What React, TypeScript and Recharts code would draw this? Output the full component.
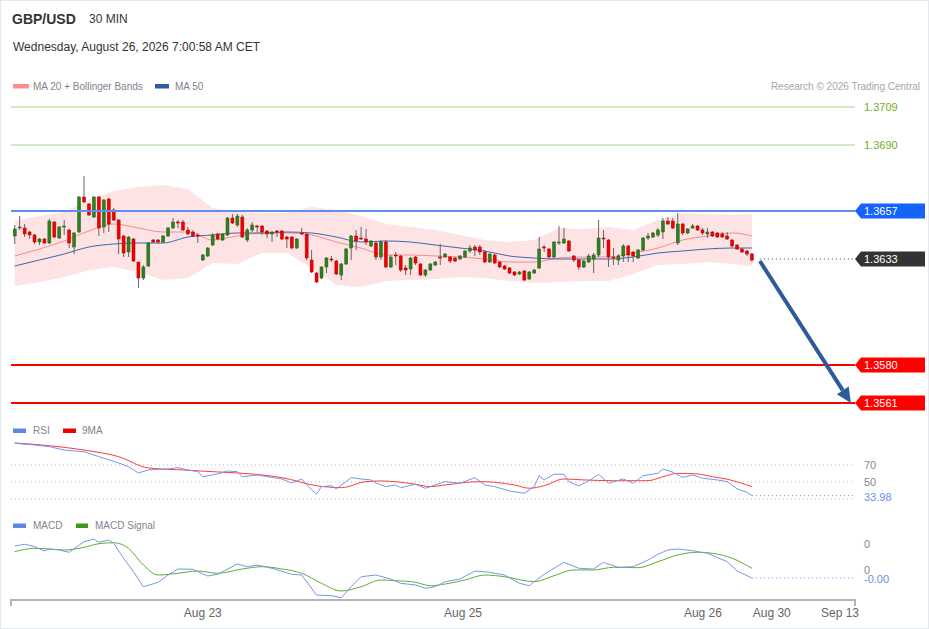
import React from 'react';
import { ComposedChart, Line, Area, Bar, XAxis, YAxis, ReferenceLine } from 'recharts';

const FONT = '"Liberation Sans", Arial, Helvetica, sans-serif';
const W = 929;
const MARGIN_X = { left: 11, right: 74 };
const X_DOMAIN: [number, number] = [-0.75, 169.83];

// 30 min candles, Aug 21 -> Aug 26 07:00
const opens = [
  1.36445, 1.36485, 1.36485, 1.36465, 1.3645, 1.36415, 1.3643, 1.3641, 1.36515, 1.36435,
  1.3649, 1.36475, 1.3639, 1.36465, 1.3664, 1.36605, 1.3654, 1.3664, 1.3649, 1.3663,
  1.36575, 1.36525, 1.36445, 1.36365, 1.3643, 1.36315, 1.36235, 1.36295, 1.36425, 1.36425,
  1.36415, 1.36445, 1.36485, 1.36515, 1.36515, 1.36475, 1.36465, 1.3645, 1.36325, 1.36345,
  1.364, 1.36455, 1.36425, 1.3645, 1.36535, 1.365, 1.3654, 1.36425, 1.36475, 1.36495,
  1.36495, 1.3647, 1.36455, 1.3647, 1.3647, 1.3644, 1.3644, 1.36385, 1.3646, 1.36455,
  1.36325, 1.3626, 1.36235, 1.3629, 1.3633, 1.3632, 1.3625, 1.36305, 1.36385, 1.36445,
  1.36435, 1.3643, 1.36395, 1.3641, 1.3634, 1.36415, 1.3629, 1.3635, 1.36345, 1.36285,
  1.3628, 1.3634, 1.36305, 1.3625, 1.36275, 1.363, 1.3634, 1.3634, 1.3634, 1.36335,
  1.3633, 1.3634, 1.3637, 1.3639, 1.3639, 1.36365, 1.36315, 1.3635, 1.36315, 1.36295,
  1.36285, 1.36265, 1.36255, 1.3627, 1.3623, 1.3626, 1.36285, 1.3639, 1.3638, 1.3634,
  1.3641, 1.3641, 1.3642, 1.36345, 1.36325, 1.3629, 1.36315, 1.3633, 1.3635, 1.36435,
  1.36425, 1.3634, 1.36325, 1.36345, 1.36395, 1.36365, 1.36335, 1.36375, 1.36435, 1.3644,
  1.3645, 1.36465, 1.3652, 1.3652, 1.3641, 1.36505, 1.3646, 1.36485, 1.36495, 1.36475,
  1.36455, 1.36465, 1.3646, 1.36455, 1.36445, 1.36425, 1.364, 1.3638, 1.3637, 1.36355,
];
const highs = [
  1.365, 1.36545, 1.36505, 1.3647, 1.36455, 1.36435, 1.36435, 1.3653, 1.3652, 1.36495,
  1.36525, 1.3648, 1.36465, 1.36645, 1.36745, 1.3661, 1.36645, 1.36645, 1.3663, 1.36635,
  1.36585, 1.3653, 1.3645, 1.36445, 1.36435, 1.36315, 1.363, 1.36415, 1.3643, 1.3643,
  1.3645, 1.3649, 1.36535, 1.36525, 1.36525, 1.3649, 1.36475, 1.3646, 1.36355, 1.3639,
  1.3646, 1.3646, 1.3646, 1.3654, 1.36555, 1.36555, 1.3655, 1.36485, 1.36515, 1.365,
  1.365, 1.36475, 1.3647, 1.36475, 1.36475, 1.36445, 1.36445, 1.36435, 1.36485, 1.3646,
  1.36375, 1.36265, 1.36295, 1.3634, 1.36345, 1.36325, 1.3631, 1.36385, 1.3645, 1.36475,
  1.3649, 1.3648, 1.36425, 1.3642, 1.36425, 1.36425, 1.3635, 1.36365, 1.3635, 1.363,
  1.3634, 1.36345, 1.3631, 1.3628, 1.3631, 1.3632, 1.36405, 1.3636, 1.36345, 1.3634,
  1.3635, 1.36375, 1.364, 1.364, 1.364, 1.36375, 1.3636, 1.36355, 1.3632, 1.363,
  1.3629, 1.3627, 1.3627, 1.36275, 1.3627, 1.3628, 1.3644, 1.364, 1.36385, 1.3642,
  1.36495, 1.36485, 1.36425, 1.3635, 1.3633, 1.36325, 1.36355, 1.3636, 1.36525, 1.36475,
  1.3643, 1.36385, 1.36355, 1.36405, 1.364, 1.3637, 1.3638, 1.3644, 1.3646, 1.36465,
  1.36485, 1.36535, 1.3654, 1.36535, 1.3656, 1.3651, 1.36485, 1.36505, 1.365, 1.36485,
  1.36485, 1.3647, 1.36465, 1.36465, 1.36465, 1.3643, 1.36405, 1.36385, 1.36375, 1.3636,
];
const lows = [
  1.36405, 1.36475, 1.3644, 1.3643, 1.36405, 1.364, 1.36405, 1.36405, 1.36435, 1.3643,
  1.3645, 1.36385, 1.36355, 1.3646, 1.3661, 1.36545, 1.36535, 1.36445, 1.3646, 1.36465,
  1.3652, 1.36355, 1.3634, 1.3634, 1.36315, 1.36185, 1.36225, 1.3629, 1.3641, 1.36405,
  1.3641, 1.3644, 1.3648, 1.36485, 1.3647, 1.3645, 1.3644, 1.3641, 1.3632, 1.3634,
  1.36395, 1.36425, 1.3642, 1.36445, 1.36505, 1.3649, 1.36435, 1.36415, 1.36465, 1.36465,
  1.3645, 1.36435, 1.36415, 1.3644, 1.36425, 1.36385, 1.3638, 1.3638, 1.3645, 1.36325,
  1.3626, 1.3621, 1.3623, 1.3626, 1.36315, 1.3625, 1.36225, 1.363, 1.36325, 1.36375,
  1.36425, 1.364, 1.3639, 1.36325, 1.36325, 1.36285, 1.36285, 1.363, 1.36265, 1.3625,
  1.3625, 1.363, 1.36245, 1.3624, 1.3627, 1.36295, 1.363, 1.36335, 1.3631, 1.36315,
  1.36325, 1.36335, 1.3636, 1.36345, 1.3635, 1.3631, 1.3631, 1.36305, 1.36285, 1.36275,
  1.36255, 1.36245, 1.3625, 1.3622, 1.36225, 1.36255, 1.3628, 1.36365, 1.36335, 1.36335,
  1.364, 1.36405, 1.36365, 1.36315, 1.36275, 1.36285, 1.3631, 1.3626, 1.3634, 1.36385,
  1.3629, 1.363, 1.363, 1.36315, 1.36315, 1.36315, 1.3633, 1.3637, 1.36425, 1.36435,
  1.3644, 1.3643, 1.365, 1.3648, 1.364, 1.3645, 1.36455, 1.3648, 1.3647, 1.3645,
  1.36435, 1.3644, 1.36435, 1.36435, 1.36425, 1.3639, 1.36375, 1.3636, 1.36345, 1.36315,
];
const closes = [
  1.3648, 1.3649, 1.36455, 1.3645, 1.36415, 1.3643, 1.3641, 1.3652, 1.3644, 1.3649,
  1.36495, 1.3641, 1.3646, 1.3664, 1.36615, 1.3655, 1.3664, 1.36485, 1.36625, 1.36505,
  1.36525, 1.3643, 1.3636, 1.3644, 1.3632, 1.36235, 1.3629, 1.3641, 1.36415, 1.36415,
  1.36445, 1.36485, 1.36515, 1.3651, 1.36475, 1.36455, 1.36445, 1.36445, 1.3635, 1.36385,
  1.3645, 1.3643, 1.36455, 1.36535, 1.3651, 1.36545, 1.3644, 1.36475, 1.365, 1.3649,
  1.36465, 1.36455, 1.36465, 1.36465, 1.3643, 1.3643, 1.36385, 1.3643, 1.36455, 1.36335,
  1.36265, 1.36215, 1.3629, 1.36335, 1.36325, 1.36255, 1.36305, 1.3638, 1.36445, 1.3642,
  1.3643, 1.36415, 1.3642, 1.3634, 1.36415, 1.3629, 1.3634, 1.36345, 1.36275, 1.36275,
  1.36335, 1.3631, 1.3625, 1.36275, 1.36305, 1.36315, 1.36335, 1.36355, 1.3632, 1.3632,
  1.36345, 1.3637, 1.36385, 1.36375, 1.36365, 1.36315, 1.36355, 1.3631, 1.3629, 1.3628,
  1.3626, 1.3625, 1.36265, 1.36225, 1.36265, 1.36275, 1.3638, 1.36385, 1.3634, 1.36415,
  1.36415, 1.3643, 1.3637, 1.36325, 1.3629, 1.3632, 1.36345, 1.3635, 1.36435, 1.3643,
  1.3634, 1.36335, 1.36345, 1.36395, 1.3635, 1.36345, 1.36375, 1.36435, 1.36445, 1.3646,
  1.36475, 1.3652, 1.36505, 1.36485, 1.36505, 1.3646, 1.3648, 1.36495, 1.36475, 1.3646,
  1.36465, 1.36445, 1.3644, 1.3644, 1.3643, 1.36395, 1.3638, 1.36365, 1.36355, 1.36325,
];

// MA 20 + Bollinger Bands and MA 50, read every 5 candles
const bandIdx = [0, 5, 10, 15, 20, 25, 30, 35, 40, 45, 50, 55, 60, 65, 70, 75, 80, 85, 90, 95, 100, 105, 110, 115, 120, 125, 130, 135, 140, 145, 149];
const ma20 = [
  1.36345, 1.3638, 1.3642, 1.3647, 1.36505, 1.36485, 1.36465, 1.36465, 1.36425, 1.36445,
  1.3646, 1.3646, 1.3645, 1.36415, 1.36385, 1.3635, 1.3635, 1.36345, 1.3634, 1.3633,
  1.36315, 1.36315, 1.36335, 1.3634, 1.3634, 1.3636, 1.36385, 1.36425, 1.36445, 1.3646, 1.36445,
];
const ma50 = [
  1.36295, 1.36325, 1.36355, 1.3639, 1.36405, 1.3641, 1.3641, 1.3644, 1.3645, 1.3646,
  1.3646, 1.36465, 1.3646, 1.3644, 1.36415, 1.3642, 1.36415, 1.364, 1.36385, 1.3637,
  1.36345, 1.36335, 1.3633, 1.3633, 1.3633, 1.3634, 1.3636, 1.3637, 1.3638, 1.36385, 1.36385,
];
const bbUpper = [
  1.3652, 1.36545, 1.36565, 1.36625, 1.3667, 1.3669, 1.367, 1.3668, 1.36585, 1.36565,
  1.3656, 1.3656, 1.3659, 1.36575, 1.36545, 1.36505, 1.3649, 1.36475, 1.3645, 1.36425,
  1.36415, 1.36425, 1.36485, 1.3648, 1.3649, 1.36475, 1.36525, 1.3656, 1.36555, 1.3655, 1.36555,
];
const bbLower = [
  1.36195, 1.36215, 1.3624, 1.36275, 1.3629, 1.36265, 1.36225, 1.36235, 1.3631, 1.36305,
  1.3636, 1.3636, 1.36285, 1.362, 1.3619, 1.3622, 1.36225, 1.3623, 1.3624, 1.36235,
  1.3622, 1.3621, 1.36215, 1.3622, 1.3622, 1.36255, 1.363, 1.36305, 1.36315, 1.36305, 1.36295,
];

// RSI and its 9 period MA: [candle index, value]
const rsi: [number, number][] = [
  [0, 95.5], [4, 93.5], [7, 91.5], [10, 87.6], [14, 85.6], [17, 79.8], [21, 72.4], [23, 68.0], [25, 60.6], [27, 64.1],
  [31, 65.3], [33, 66.8], [35, 64.1], [37, 62.1], [38, 56.2], [41, 59.4], [43, 62.9], [45, 62.1], [46, 56.2], [49, 58.2],
  [51, 56.2], [54, 53.5], [56, 48.8], [58, 53.5], [60, 40.6], [61, 35.9], [62, 44.5], [64, 45.6], [65, 41.8], [68, 55.1],
  [70, 53.5], [72, 52.4], [73, 48.8], [75, 44.5], [77, 46.5], [78, 43.3], [81, 47.3], [83, 42.6], [85, 46.5], [87, 50.4],
  [90, 48.5], [93, 55.1], [95, 46.5], [97, 44.5], [100, 39.4], [103, 36.7], [105, 44.5], [106, 57.4], [107, 52.4], [109, 59.1],
  [111, 59.1], [112, 50.4], [114, 45.3], [116, 51.2], [118, 59.1], [120, 48.5], [123, 53.5], [125, 48.5], [127, 57.4], [130, 60.2],
  [131, 65.3], [133, 61.4], [135, 55.5], [137, 58.2], [139, 54.4], [142, 52.4], [144, 50.4], [146, 41.8], [148, 37.9], [149, 33.98],
];
const rsiMa: [number, number][] = [
  [0, 95.9], [7, 92.7], [14, 87.6], [21, 79.8], [27, 66.5], [34, 64.1], [41, 61.8], [48, 59.4], [54, 55.1], [61, 45.6],
  [66, 43.3], [71, 50.4], [74, 51.2], [81, 47.3], [84, 44.5], [87, 46.5], [94, 50.4], [97, 49.6], [101, 46.5], [104, 42.6],
  [107, 45.6], [111, 53.5], [115, 52.4], [121, 51.5], [128, 51.5], [131, 56.2], [134, 60.2], [138, 59.4], [141, 56.2], [144, 53.2],
  [149, 44.5],
];

// MACD and signal: [candle index, value]
const macd: [number, number][] = [
  [0, 0.000464], [2, 0.000495], [4, 0.000452], [6, 0.000375], [7, 0.000411], [9, 0.000393], [11, 0.000352], [14, 0.000541], [16, 0.000589], [17, 0.00053],
  [19, 0.000571], [20, 0.000513], [22, 0.000245], [24, 0.000005], [26, -0.000263], [29, -0.000184], [31, -0.000054], [33, 0.000054], [36, 0.000048], [39, -0.000071],
  [41, -0.000041], [45, 0.000143], [47, 0.000095], [49, 0.000125], [52, 0.000066], [56, -0.000041], [58, -0.000054], [61, -0.000411], [64, -0.000423], [66, -0.000459],
  [68, -0.000263], [70, -0.000084], [73, -0.000054], [76, -0.000125], [78, -0.000202], [81, -0.000232], [83, -0.000291], [85, -0.000263], [87, -0.000173], [90, -0.000125],
  [93, 0.000018], [96, -0.000005], [99, -0.000054], [102, -0.000202], [104, -0.000245], [105, -0.000173], [107, -0.000041], [111, 0.000173], [114, 0.000066], [117, 0.000054],
  [119, 0.000173], [122, 0.000084], [125, 0.000095], [128, 0.000214], [130, 0.000316], [132, 0.000393], [134, 0.000411], [137, 0.00038], [140, 0.000334], [144, 0.000184],
  [146, 0.000018], [149, -0.000107],
];
const macdSignal: [number, number][] = [
  [0, 0.000363], [4, 0.000423], [7, 0.000411], [10, 0.000393], [14, 0.000441], [17, 0.000505], [20, 0.000523], [23, 0.000423], [26, 0.000125], [29, -0.000054],
  [33, -0.000023], [37, 0.000018], [41, -0.000023], [46, 0.000054], [50, 0.000095], [54, 0.000054], [58, -0.000023], [62, -0.000202], [66, -0.000339], [70, -0.000263],
  [74, -0.000143], [77, -0.000155], [81, -0.000184], [84, -0.000245], [87, -0.000214], [91, -0.000143], [95, -0.000054], [99, -0.000084], [105, -0.000173], [109, -0.000066],
  [113, 0.000036], [117, 0.000036], [121, 0.000084], [126, 0.000077], [130, 0.000184], [134, 0.000304], [138, 0.000352], [141, 0.000334], [145, 0.000245], [149, 0.000066],
];

// x axis labels (candle slot positions, future slots are compressed)
const axisTicks = [38, 90.6, 139.1, 153, 166.8];
const axisLabels = ['Aug 23', 'Aug 25', 'Aug 26', 'Aug 30', 'Sep 13'];

// key levels
const resistances = [1.3709, 1.369];
const pivot = 1.3657;
const lastPrice = 1.3633;
const supports = [1.358, 1.3561];
const lastRsi = 33.98;

const candleRows = opens.map((open, i) => ({ i, open, high: highs[i], low: lows[i], close: closes[i] }));
const bandRows = bandIdx.map((i, k) => ({ i, ma20: ma20[k], ma50: ma50[k], upper: bbUpper[k], lower: bbLower[k] }));

function mergeByIndex(series: Record<string, [number, number][]>) {
  const rows = new Map<number, any>();
  Object.entries(series).forEach(([key, pts]) =>
    pts.forEach(([i, v]) => {
      const row = rows.get(i) ?? { i };
      row[key] = v;
      rows.set(i, row);
    })
  );
  return [...rows.values()].sort((a, b) => a.i - b.i);
}
const rsiRows = mergeByIndex({ rsi, ma: rsiMa });
const macdRows = mergeByIndex({ macd, signal: macdSignal });

const Candle = (props: any) => {
  const { x, y, width, height, payload } = props;
  const { open, close, high, low } = payload;
  const k = high > low ? height / (high - low) : 0;
  const cx = x + width / 2;
  const top = y + (high - Math.max(open, close)) * k;
  const bh = Math.max(1, Math.abs(open - close) * k);
  const up = close >= open;
  return (
    <g>
      <line x1={cx} x2={cx} y1={y} y2={y + height} stroke="#6e6262" strokeWidth={1} />
      <rect x={x} y={top} width={width} height={bh} fill={up ? '#2f7f1c' : '#f00000'} stroke={up ? '#22601a' : '#b50000'} strokeWidth={0.5} />
    </g>
  );
};

const PriceTag = ({ viewBox, text, fill }: any) => {
  if (!viewBox) return null;
  const x = viewBox.x + viewBox.width;
  const y = viewBox.y;
  return (
    <g>
      <path d={`M${x},${y} L${x + 6},${y - 7.5} H${x + 70} V${y + 7.5} H${x + 6} Z`} fill={fill} />
      <text x={x + 9} y={y + 4} fill="#fff" fontSize={11} fontFamily={FONT}>{text}</text>
    </g>
  );
};

const SideText = ({ viewBox, text, color, dy = 0 }: any) => {
  if (!viewBox) return null;
  return (
    <text x={viewBox.x + viewBox.width + 9} y={viewBox.y + 4 + dy} fill={color} fontSize={11} fontFamily={FONT}>
      {text}
    </text>
  );
};

const TrendArrow = (props: any) => {
  const { x1, y1, x2, y2 } = props;
  const dx = x2 - x1;
  const dy = y2 - y1;
  const len = Math.sqrt(dx * dx + dy * dy);
  const ux = dx / len;
  const uy = dy / len;
  const bx = x2 - ux * 15;
  const by = y2 - uy * 15;
  const px = -uy * 7;
  const py = ux * 7;
  return (
    <g>
      <line x1={x1} y1={y1} x2={bx} y2={by} stroke="#2d5a98" strokeWidth={4} />
      <polygon points={`${x2},${y2} ${bx + px},${by + py} ${bx - px},${by - py}`} fill="#2d5a98" />
    </g>
  );
};

const hiddenX = <XAxis type="number" dataKey="i" domain={X_DOMAIN} allowDataOverflow hide />;
const layer = (top: number): React.CSSProperties => ({ position: 'absolute', left: 0, top });

const PRICE_DOMAIN: [number, number] = [1.3555, 1.3715];
const RSI_DOMAIN: [number, number] = [17, 99.4];
const MACD_DOMAIN: [number, number] = [-0.0005, 0.00075];

export default function App() {
  const mainMargin = { top: 95, bottom: 5, ...MARGIN_X };
  const lastMacd = macd[macd.length - 1][1];
  return (
    <div style={{ position: 'absolute', left: 0, top: 0, width: W, height: 629, background: '#fff', fontFamily: FONT, overflow: 'hidden' }}>
      <svg width={W} height={629} style={layer(0)}>
        <text x={12} y={24} fontSize={14} fontWeight="bold" fill="#333">GBP/USD</text>
        <text x={89} y={23} fontSize={12} fill="#333">30 MIN</text>
        <text x={13} y={51} fontSize={12} fill="#333">Wednesday, August 26, 2026 7:00:58 AM CET</text>

        <rect x={13} y={84} width={16} height={4.5} fill="#ff8a8a" />
        <text x={33} y={89.5} fontSize={10} fill="#80858c">MA 20 + Bollinger Bands</text>
        <rect x={155} y={84} width={14} height={4.5} fill="#2e5b9a" />
        <text x={175} y={89.5} fontSize={10} fill="#80858c">MA 50</text>
        <text x={920} y={89.5} fontSize={10} fill="#a6a6a6" textAnchor="end">Research © 2026 Trading Central</text>

        <rect x={13} y={428.5} width={13} height={4.5} fill="#5d86e6" />
        <text x={33} y={434} fontSize={10} fill="#80858c">RSI</text>
        <rect x={63} y={428.5} width={13} height={4.5} fill="#f00000" />
        <text x={82} y={434} fontSize={10} fill="#80858c">9MA</text>

        <rect x={13} y={523.5} width={13} height={4.5} fill="#5d86e6" />
        <text x={33} y={529} fontSize={10} fill="#80858c">MACD</text>
        <rect x={76} y={523.5} width={12} height={4.5} fill="#3c9a1c" />
        <text x={95} y={529} fontSize={10} fill="#80858c">MACD Signal</text>

        <line x1={11} x2={11} y1={599} y2={606} stroke="#b4b4b4" strokeWidth={2} />
        <line x1={855} x2={855} y1={599} y2={606} stroke="#b4b4b4" strokeWidth={2} />
      </svg>

      {/* Bollinger band + moving averages */}
      <div style={layer(0)}>
        <ComposedChart width={W} height={420} data={bandRows} margin={mainMargin}>
          {hiddenX}
          <YAxis hide domain={PRICE_DOMAIN} allowDataOverflow />
          <Area dataKey={(d: any) => [d.lower, d.upper]} type="linear" stroke="none" fill="#fde3e3" fillOpacity={1} isAnimationActive={false} />
          <Line dataKey="ma20" type="monotone" stroke="#f48c8c" strokeWidth={1} dot={false} isAnimationActive={false} />
          <Line dataKey="ma50" type="monotone" stroke="#3d66ab" strokeWidth={1} dot={false} isAnimationActive={false} />
        </ComposedChart>
      </div>

      {/* candles and levels */}
      <div style={layer(0)}>
        <ComposedChart width={W} height={420} data={candleRows} margin={mainMargin}>
          {hiddenX}
          <YAxis hide domain={PRICE_DOMAIN} allowDataOverflow />
          {resistances.map((v) => (
            <ReferenceLine key={v} y={v} stroke="#a5d77f" strokeWidth={1}
              label={<SideText text={v.toFixed(4)} color="#72ad22" />} />
          ))}
          <ReferenceLine y={pivot} stroke="#5f8fee" strokeWidth={2} label={<PriceTag text={pivot.toFixed(4)} fill="#1463fb" />} />
          {supports.map((v) => (
            <ReferenceLine key={v} y={v} stroke="#ff0000" strokeWidth={2} label={<PriceTag text={v.toFixed(4)} fill="#ff0000" />} />
          ))}
          <Bar dataKey={(d: any) => [d.low, d.high]} barSize={3} shape={<Candle />} isAnimationActive={false} />
          <ReferenceLine segment={[{ x: 150.6, y: lastPrice }, { x: X_DOMAIN[1], y: lastPrice }]} stroke="#333" strokeDasharray="1 3" />
          <ReferenceLine y={lastPrice} stroke="none" label={<PriceTag text={lastPrice.toFixed(4)} fill="#333333" />} />
          <ReferenceLine segment={[{ x: 150.6, y: 1.3632 }, { x: 169.0, y: supports[1] }]} shape={<TrendArrow />} />
        </ComposedChart>
      </div>

      {/* RSI */}
      <div style={layer(0)}>
        <ComposedChart width={W} height={520} data={rsiRows} margin={{ top: 440, bottom: 10, ...MARGIN_X }}>
          {hiddenX}
          <YAxis hide domain={RSI_DOMAIN} allowDataOverflow />
          <ReferenceLine y={70} stroke="#b8b8b8" strokeDasharray="1 3" label={<SideText text="70" color="#888" />} />
          <ReferenceLine y={50} stroke="#b8b8b8" strokeDasharray="1 3" label={<SideText text="50" color="#888" />} />
          <ReferenceLine y={30} stroke="#b8b8b8" strokeDasharray="1 3" />
          <ReferenceLine segment={[{ x: 149, y: lastRsi }, { x: X_DOMAIN[1], y: lastRsi }]} stroke="#6a8fe8" strokeDasharray="1 3" />
          <ReferenceLine y={lastRsi} stroke="none" label={<SideText text={lastRsi.toFixed(2)} color="#6a8fe8" dy={1} />} />
          <Line dataKey="ma" type="monotone" stroke="#ff3a3a" strokeWidth={1} dot={false} connectNulls isAnimationActive={false} />
          <Line dataKey="rsi" type="linear" stroke="#7597ea" strokeWidth={1} dot={false} connectNulls isAnimationActive={false} />
        </ComposedChart>
      </div>

      {/* MACD */}
      <div style={layer(0)}>
        <ComposedChart width={W} height={629} data={macdRows} margin={{ top: 530, bottom: 0, ...MARGIN_X }}>
          <XAxis type="number" dataKey="i" domain={X_DOMAIN} allowDataOverflow height={29}
            ticks={axisTicks} interval={0} tickLine={false}
            tickFormatter={(v: number) => axisLabels[axisTicks.indexOf(v)] ?? ''}
            axisLine={{ stroke: '#b4b4b4', strokeWidth: 2 }}
            tick={{ fill: '#666', fontSize: 12, fontFamily: FONT }} />
          <YAxis hide domain={MACD_DOMAIN} allowDataOverflow />
          <ReferenceLine y={0.0005} stroke="none" label={<SideText text="0" color="#888" />} />
          <ReferenceLine y={0} stroke="none" label={<SideText text="0" color="#888" dy={-2} />} />
          <ReferenceLine segment={[{ x: 149, y: lastMacd }, { x: X_DOMAIN[1], y: lastMacd }]} stroke="#6a8fe8" strokeDasharray="1 3" />
          <ReferenceLine y={lastMacd} stroke="none" label={<SideText text="-0.00" color="#6a8fe8" dy={1} />} />
          <Line dataKey="signal" type="monotone" stroke="#5fae30" strokeWidth={1} dot={false} connectNulls isAnimationActive={false} />
          <Line dataKey="macd" type="linear" stroke="#7597ea" strokeWidth={1} dot={false} connectNulls isAnimationActive={false} />
        </ComposedChart>
      </div>

      <div style={{ position: 'absolute', inset: 0, border: '1px solid #e3e8ec', pointerEvents: 'none' }} />
    </div>
  );
}
